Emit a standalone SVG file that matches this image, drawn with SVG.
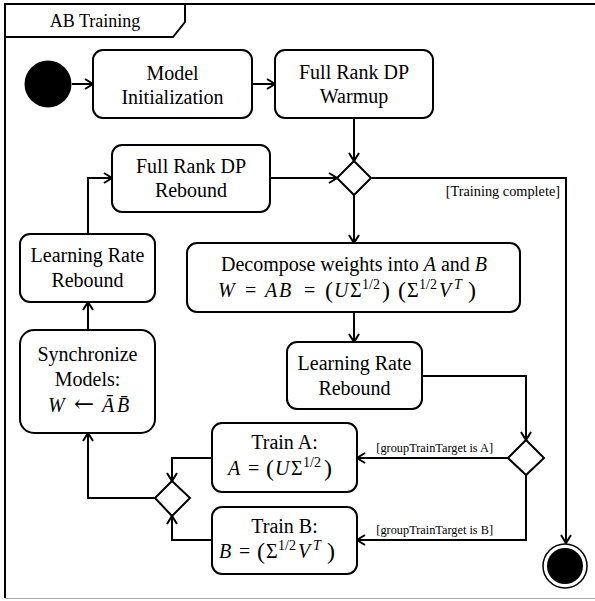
<svg xmlns="http://www.w3.org/2000/svg" width="595" height="601" viewBox="0 0 595 601">
<style>
text{font-family:'Liberation Serif','Times New Roman',serif;fill:#000}
.box{fill:#fff;stroke:#000;stroke-width:2}
.t{font-size:20px;text-anchor:middle}
.m{font-size:20px;text-anchor:start}
.mi{font-style:italic}
.sup{font-size:14px}
.par{font-size:24px}
.lbl{font-size:14.3px}
.lbl2{font-size:12.3px}
.c{fill:none;stroke:#000;stroke-width:2;marker-end:url(#ah)}
.dia{fill:#fff;stroke:#000;stroke-width:2}
</style>
<defs>
<marker id="ah" markerUnits="userSpaceOnUse" markerWidth="12" markerHeight="12" refX="9" refY="6" orient="auto">
<path d="M1,1 L9,6 L1,11" fill="none" stroke="#000" stroke-width="2"/>
</marker>
</defs>
<rect width="595" height="601" fill="#fff"/>
<g id="frame">
<path d="M5,598 L5,4 L600,4" fill="none" stroke="#000" stroke-width="2"/>
<line x1="5" y1="598.5" x2="600" y2="598.5" stroke="#aaa" stroke-width="1"/>
<path d="M5,37 L173,37 L185,22 L185,4" fill="none" stroke="#000" stroke-width="2"/>
<text x="95" y="27" class="t" style="font-size:18px">AB Training</text>
</g>
<g id="connectors">
<line x1="72" y1="84" x2="93" y2="84" class="c"/>
<line x1="252" y1="84" x2="275" y2="84" class="c"/>
<line x1="354" y1="118" x2="354" y2="161" class="c"/>
<line x1="270" y1="178" x2="337" y2="178" class="c"/>
<polyline points="372,178 566,178 566,543" class="c"/>
<text x="560" y="196" class="lbl" text-anchor="end">[Training complete]</text>
<line x1="354" y1="195" x2="354" y2="243" class="c"/>
<line x1="354" y1="312" x2="354" y2="342" class="c"/>
<polyline points="422,376 526,376 526,440" class="c"/>
<line x1="508" y1="458" x2="357" y2="458" class="c"/>
<text x="493" y="452" class="lbl2" text-anchor="end">[groupTrainTarget is A]</text>
<polyline points="526,475 526,540 357,540" class="c"/>
<text x="493" y="534" class="lbl2" text-anchor="end">[groupTrainTarget is B]</text>
<polyline points="212,458 172,458 172,481" class="c"/>
<polyline points="212,540 172,540 172,516" class="c"/>
<polyline points="155,498 88,498 88,433" class="c"/>
<line x1="88" y1="330" x2="88" y2="302" class="c"/>
<polyline points="88,234 88,178 112,178" class="c"/>
</g>
<g id="start">
<circle cx="48" cy="84" r="23.5" fill="#000"/>
</g>
<g id="model-init">
<rect x="93" y="50" width="159" height="68" rx="10" class="box"/>
<text x="172.5" y="80" class="t">Model</text>
<text x="172.5" y="104" class="t">Initialization</text>
</g>
<g id="warmup">
<rect x="275" y="50" width="158" height="68" rx="10" class="box"/>
<text x="354" y="79" class="t">Full Rank DP</text>
<text x="354" y="103" class="t">Warmup</text>
</g>
<g id="decision1">
<polygon points="354,161 371,178 354,195 337,178" class="dia"/>
</g>
<g id="dp-rebound">
<rect x="112" y="145" width="158" height="67" rx="10" class="box"/>
<text x="191" y="173" class="t">Full Rank DP</text>
<text x="191" y="197" class="t">Rebound</text>
</g>
<g id="lr-rebound-left">
<rect x="20" y="234" width="135" height="68" rx="10" class="box"/>
<text x="87.5" y="262" class="t">Learning Rate</text>
<text x="87.5" y="287" class="t">Rebound</text>
</g>
<g id="decompose">
<rect x="187" y="243" width="333" height="69" rx="10" class="box"/>
<text x="354" y="271" class="t">Decompose weights into <tspan class="mi">A</tspan> and <tspan class="mi">B</tspan></text>
<text class="m"><tspan class="mi" x="218" y="297">W</tspan><tspan x="245" y="297">=</tspan><tspan class="mi" x="265" y="297">A</tspan><tspan class="mi" x="279" y="297">B</tspan><tspan x="304" y="297">=</tspan><tspan class="par" x="325" y="298">(</tspan><tspan class="mi" x="334" y="297">U</tspan><tspan x="350" y="297">Σ</tspan><tspan class="sup" x="362" y="289">1/2</tspan><tspan class="par" x="382" y="298">)</tspan><tspan class="par" x="398" y="298">(</tspan><tspan x="407" y="297">Σ</tspan><tspan class="sup" x="419" y="289">1/2</tspan><tspan class="mi" x="439" y="297">V</tspan><tspan class="sup mi" x="454" y="289">T</tspan><tspan class="par" x="468" y="298">)</tspan></text>
</g>
<g id="lr-rebound-right">
<rect x="287" y="342" width="135" height="67" rx="10" class="box"/>
<text x="354.5" y="370" class="t">Learning Rate</text>
<text x="354.5" y="395" class="t">Rebound</text>
</g>
<g id="decision2">
<polygon points="526,440 544,458 526,475 508,458" class="dia"/>
</g>
<g id="train-a">
<rect x="212" y="423" width="145" height="69" rx="10" class="box"/>
<text x="284.5" y="449" class="t">Train A:</text>
<text class="m"><tspan class="mi" x="228" y="475">A</tspan><tspan x="248" y="475">=</tspan><tspan class="par" x="266" y="476">(</tspan><tspan class="mi" x="275" y="475">U</tspan><tspan x="291" y="475">Σ</tspan><tspan class="sup" x="303" y="467">1/2</tspan><tspan class="par" x="324" y="476">)</tspan></text>
</g>
<g id="train-b">
<rect x="212" y="507" width="145" height="67" rx="10" class="box"/>
<text x="284.5" y="533" class="t">Train B:</text>
<text class="m"><tspan class="mi" x="219" y="558">B</tspan><tspan x="239" y="558">=</tspan><tspan class="par" x="257" y="559">(</tspan><tspan x="266" y="558">Σ</tspan><tspan class="sup" x="278" y="550">1/2</tspan><tspan class="mi" x="298" y="558">V</tspan><tspan class="sup mi" x="313" y="550">T</tspan><tspan class="par" x="327" y="559">)</tspan></text>
</g>
<g id="merge">
<polygon points="172,481 190,498 172,516 155,498" class="dia"/>
</g>
<g id="synchronize">
<rect x="20" y="330" width="135" height="103" rx="14" class="box"/>
<text x="87.5" y="361" class="t">Synchronize</text>
<text x="87.5" y="386" class="t">Models:</text>
<text class="m"><tspan class="mi" x="48" y="412">W</tspan><tspan x="74" y="412" style="font-family:'DejaVu Serif',serif;font-size:24px">←</tspan><tspan class="mi" x="102" y="412">Ā</tspan><tspan class="mi" x="117" y="412">B̄</tspan></text>
</g>
<g id="end">
<circle cx="565" cy="566" r="22" fill="#fff" stroke="#000" stroke-width="1.5"/>
<circle cx="565" cy="566" r="18" fill="#000"/>
</g>
</svg>
